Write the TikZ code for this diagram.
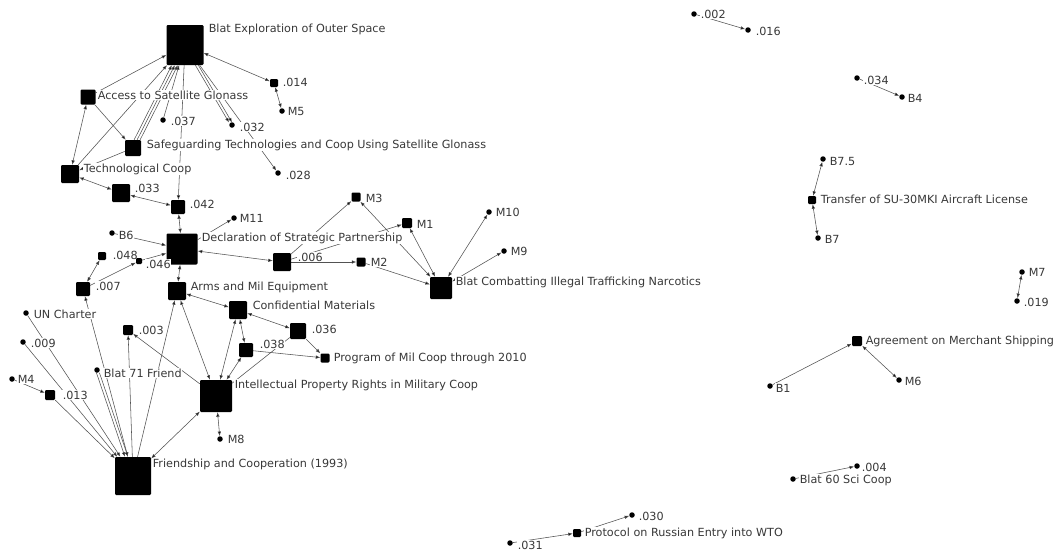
\documentclass[tikz,border=0pt]{standalone}
\usepackage{fontspec}
\setmainfont{DejaVu Sans}
\usetikzlibrary{arrows.meta}
\pgfdeclarelayer{bg}
\pgfdeclarelayer{edges}
\pgfsetlayers{bg,edges,main}
\begin{document}
\begin{tikzpicture}[x=1pt,y=-1pt,
 sq/.style={fill=black,draw=none,minimum size=#1,inner sep=0pt,rounded corners=1.2pt},
 dt/.style={fill=black,circle,inner sep=0pt,minimum size=5.5pt},
 lb/.style={anchor=west,inner sep=0.6pt,fill=white,font=\fontsize{11.2}{13}\selectfont,text=black!78},
 ln/.style={draw=black!68,line width=0.55pt},
 a/.style={ln,-{Latex[length=4.5pt,width=3.5pt,fill=black]}},
 aa/.style={ln,{Latex[length=4.5pt,width=3.5pt,fill=black]}-{Latex[length=4.5pt,width=3.5pt,fill=black]}},
]
\begin{pgfonlayer}{bg}
\fill[white] (0,0) rectangle (1059,552);
\end{pgfonlayer}
\useasboundingbox (0,0) rectangle (1059,552);

% ---- main cluster nodes
\node[sq=37pt,minimum height=40pt] (os) at (185,45) {};
\node[lb] (los) at (208,29) {Blat Exploration of Outer Space};
\node[sq=8pt] (d014) at (274,83) {};
\node[lb] (l014) at (282,82) {.014};
\node[dt] (m5) at (282,111) {};
\node[lb] (lm5) at (287,111) {M5};
\node[sq=15pt] (acc) at (88,97) {};
\node[lb] (lacc) at (97,95) {Access to Satellite Glonass};
\node[dt] (d037) at (163,120) {};
\node[lb] (l037) at (170,121) {.037};
\node[dt] (d032) at (232,125) {};
\node[lb] (l032) at (239,127) {.032};
\node[sq=16pt] (sg) at (133,148) {};
\node[lb] (lsg) at (146,145) {Safeguarding Technologies and Coop Using Satellite Glonass};
\node[dt] (d028) at (278,173) {};
\node[lb] (l028) at (285,175) {.028};
\node[sq=18pt] (tc) at (70,174) {};
\node[lb] (ltc) at (83,169) {Technological Coop};
\node[sq=18pt] (d033) at (121,193) {};
\node[lb] (l033) at (134,188) {.033};
\node[sq=14pt] (d042) at (178,207) {};
\node[lb] (l042) at (189,204) {.042};
\node[dt] (m11) at (234,218) {};
\node[lb] (lm11) at (239,218) {M11};
\node[dt] (b6) at (112,233) {};
\node[lb] (lb6) at (118,235) {B6};
\node[sq=31pt] (dec) at (182,249) {};
\node[lb] (ldec) at (201,238) {Declaration of Strategic Partnership};
\node[sq=8pt] (d048) at (102,256) {};
\node[lb] (l048) at (112,255) {.048};
\node[sq=6pt] (d046) at (139,261) {};
\node[lb] (l046) at (145,264) {.046};
\node[sq=14pt] (d007) at (83,289) {};
\node[lb] (l007) at (95,286) {.007};
\node[sq=18pt] (d006) at (282,262) {};
\node[lb] (l006) at (297,257) {.006};
\node[sq=9pt] (m2) at (361,262) {};
\node[lb] (lm2) at (370,262) {M2};
\node[sq=9pt] (m3) at (356,197) {};
\node[lb] (lm3) at (365,198) {M3};
\node[sq=10pt] (m1) at (407,223) {};
\node[lb] (lm1) at (416,224) {M1};
\node[dt] (m10) at (489,212) {};
\node[lb] (lm10) at (495,212) {M10};
\node[dt] (m9) at (504,251) {};
\node[lb] (lm9) at (510,251) {M9};
\node[sq=22pt] (nar) at (441,288) {};
\node[lb] (lnar) at (455,282) {Blat Combatting Illegal Trafficking Narcotics};
\node[sq=18pt] (arms) at (177,291) {};
\node[lb] (larms) at (190,287) {Arms and Mil Equipment};
\node[sq=18pt] (conf) at (238,310) {};
\node[lb] (lconf) at (252,305) {Confidential Materials};
\node[dt] (unc) at (26,313) {};
\node[lb] (lunc) at (33,314) {UN Charter};
\node[sq=16pt] (d036) at (298,331) {};
\node[lb] (l036) at (311,329) {.036};
\node[sq=10pt] (d003) at (128,330) {};
\node[lb] (l003) at (138,330) {.003};
\node[sq=14pt] (d038) at (246,350) {};
\node[lb] (l038) at (259,344) {.038};
\node[sq=9pt] (prog) at (325,358) {};
\node[lb] (lprog) at (333,358) {Program of Mil Coop through 2010};
\node[dt] (d009) at (23,342) {};
\node[lb] (l009) at (30,343) {.009};
\node[dt] (b71) at (97,370) {};
\node[lb] (lb71) at (103,373) {Blat 71 Friend};
\node[dt] (m4) at (12,379) {};
\node[lb] (lm4) at (17,379) {M4};
\node[sq=10pt] (d013) at (50,395) {};
\node[lb] (l013) at (62,395) {.013};
\node[sq=32pt] (ip) at (216,396) {};
\node[lb] (lip) at (234,385) {Intellectual Property Rights in Military Coop};
\node[dt] (m8) at (220,439) {};
\node[lb] (lm8) at (227,439) {M8};
\node[sq=36pt,minimum height=38pt] (fr) at (133,476) {};
\node[lb] (lfr) at (152,464) {Friendship and Cooperation (1993)};

% ---- right side nodes
\node[dt] (d002) at (694,14) {};
\node[lb] (l002) at (700,14) {.002};
\node[dt] (d016) at (748,30) {};
\node[lb] (l016) at (755,31) {.016};
\node[dt] (d034) at (857,78) {};
\node[lb] (l034) at (863,80) {.034};
\node[dt] (b4) at (902,97) {};
\node[lb] (lb4) at (907,98) {B4};
\node[dt] (b75) at (823,159) {};
\node[lb] (lb75) at (829,161) {B7.5};
\node[sq=8pt] (tr) at (812,200) {};
\node[lb] (ltr) at (820,199) {Transfer of SU-30MKI Aircraft License};
\node[dt] (b7) at (818,238) {};
\node[lb] (lb7) at (824,239) {B7};
\node[dt] (m7) at (1022,272) {};
\node[lb] (lm7) at (1028,272) {M7};
\node[dt] (d019) at (1017,301) {};
\node[lb] (l019) at (1023,302) {.019};
\node[sq=10pt] (ag) at (857,341) {};
\node[lb] (lag) at (865,341) {Agreement on Merchant Shipping};
\node[dt] (b1) at (770,386) {};
\node[lb] (lb1) at (775,388) {B1};
\node[dt] (m6) at (899,380) {};
\node[lb] (lm6) at (904,381) {M6};
\node[dt] (d004) at (857,466) {};
\node[lb] (l004) at (861,467) {.004};
\node[dt] (b60) at (793,479) {};
\node[lb] (lb60) at (799,480) {Blat 60 Sci Coop};
\node[dt] (d030) at (632,515) {};
\node[lb] (l030) at (638,516) {.030};
\node[sq=8pt] (prot) at (577,533) {};
\node[lb] (lprot) at (584,533) {Protocol on Russian Entry into WTO};
\node[dt] (d031) at (510,543) {};
\node[lb] (l031) at (517,545) {.031};

\begin{pgfonlayer}{edges}
% ---- edges, main cluster
\draw[a] (acc) -- (os);
\draw[a] (tc) -- (os);
\draw[a,transform canvas={xshift=-3pt}] (sg) -- (os);
\draw[a] (sg) -- (os);
\draw[a,transform canvas={xshift=3pt}] (sg) -- (os);
\draw[a] (d037) -- (os);
\draw[a,transform canvas={xshift=-1.5pt}] (os) -- (d032);
\draw[a,transform canvas={xshift=1.5pt}] (os) -- (d032);
\draw[a] (os) -- (d028);
\draw[aa] (os) -- (d014);
\draw[aa] (d014) -- (m5);
\draw[a] (os) -- (d042);
\draw[aa] (acc) -- (tc);
\draw[a] (acc) -- (sg);
\draw[a] (sg) -- (tc);
\draw[aa] (tc) -- (d033);
\draw[aa] (d033) -- (d042);
\draw[aa] (d042) -- (dec);
\draw[a] (dec) -- (m11);
\draw[a] (b6) -- (dec);
\draw[a] (d046) -- (dec);
\draw[aa] (d048) -- (d007);
\draw[a] (d007) -- (d046);
\draw[aa] (dec) -- (d006);
\draw[aa] (dec) -- (arms);
\draw[a] (d006) -- (m2);
\draw[a] (d006) -- (m3);
\draw[a] (d006) -- (m1);
\draw[aa] (m3) -- (nar);
\draw[aa] (m1) -- (nar);
\draw[aa] (m10) -- (nar);
\draw[aa] (m9) -- (nar);
\draw[a] (m2) -- (nar);
\draw[aa] (arms) -- (conf);
\draw[aa] (conf) -- (d036);
\draw[aa] (conf) -- (d038);
\draw[a] (d036) -- (prog);
\draw[a] (d038) -- (prog);
\draw[aa] (ip) -- (conf);
\draw[aa] (d038) -- (ip);
\draw[aa] (ip) -- (arms);
\draw[ln] (ip) -- (d036);
\draw[a] (ip) -- (d003);
\draw[aa] (ip) -- (m8);
\draw[aa] (fr) -- (ip);
\draw[a] (fr) -- (arms);
\draw[a] (fr) -- (d003);
\draw[aa] (d007) -- (fr);
\draw[a] (unc) -- (fr);
\draw[a] (d009) -- (fr);
\draw[a] (m4) -- (d013);
\draw[a] (d013) -- (fr);
\draw[a,transform canvas={xshift=-1.5pt}] (b71) -- (fr);
\draw[a,transform canvas={xshift=1.5pt}] (b71) -- (fr);

% ---- edges, right side
\draw[a] (d002) -- (d016);
\draw[a] (d034) -- (b4);
\draw[aa] (b75) -- (tr);
\draw[aa] (tr) -- (b7);
\draw[aa] (m7) -- (d019);
\draw[a] (b1) -- (ag);
\draw[aa] (ag) -- (m6);
\draw[a] (b60) -- (d004);
\draw[a] (prot) -- (d030);
\draw[a] (d031) -- (prot);
\end{pgfonlayer}
\end{tikzpicture}
\end{document}
